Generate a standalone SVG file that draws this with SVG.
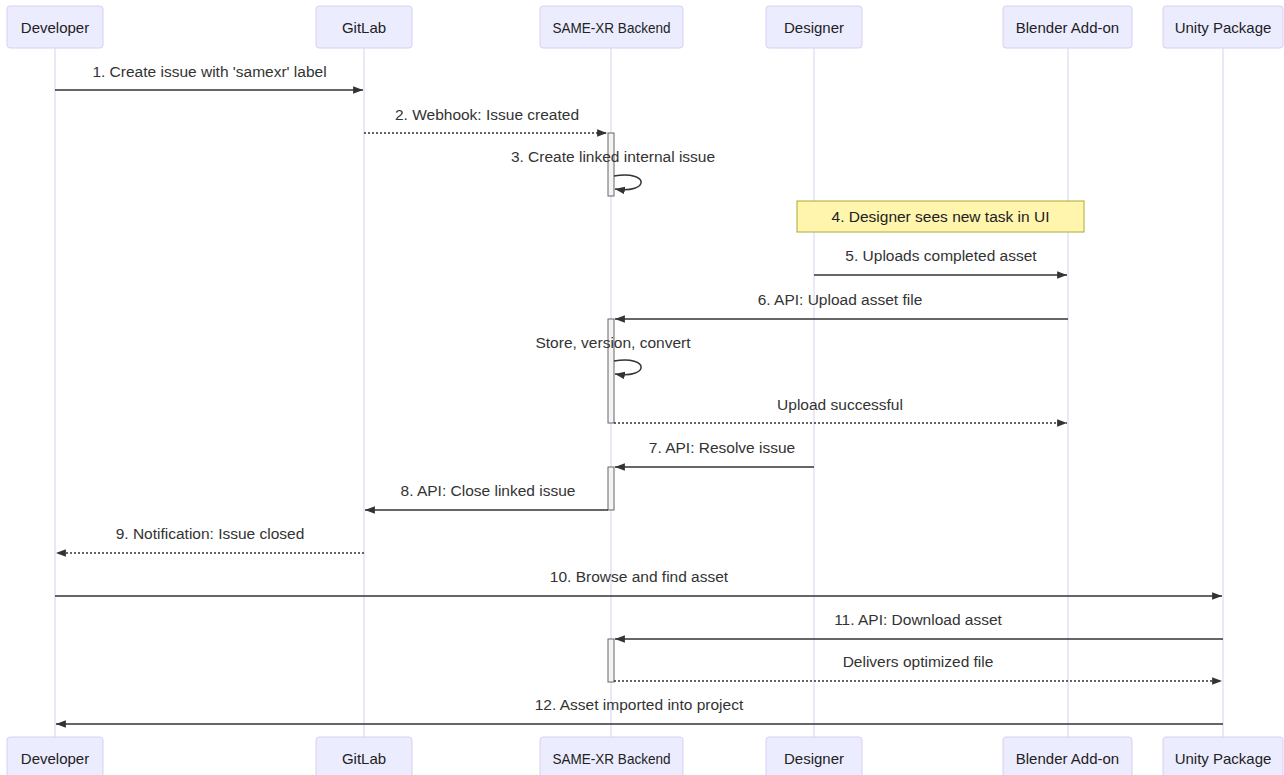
<svg xmlns="http://www.w3.org/2000/svg" width="1284" height="775" viewBox="0 0 1284 775">
<defs>
<style>
.actor{fill:#ECECFF;stroke:#D9D0F2;stroke-width:1}
.actor-text{font-family:"Liberation Sans",Arial,sans-serif;font-size:15px;fill:#222;text-anchor:middle}
.lifeline{stroke:#D9D0F2;stroke-width:1}
.msg{stroke:#333;stroke-width:1.5;fill:none}
.dotted{stroke:#333;stroke-width:1.5;fill:none;stroke-dasharray:2,2}
.label{font-family:"Liberation Sans",Arial,sans-serif;font-size:15.5px;fill:#333;text-anchor:middle}
.act{fill:#f4f4f4;stroke:#666;stroke-width:1}
.note{fill:#fff5ad;stroke:#aaaa33;stroke-width:1}
.note-text{font-family:"Liberation Sans",Arial,sans-serif;font-size:15.5px;fill:#222;text-anchor:middle}
</style>
<marker id="arrow" markerUnits="userSpaceOnUse" markerWidth="11" markerHeight="11" refX="9" refY="5" orient="auto" viewBox="0 0 10 10">
<path d="M 0 1.5 L 9 5 L 0 8.5 z" fill="#333"/>
</marker>
</defs>
<rect width="1284" height="775" fill="#ffffff"/>

<g id="lifelines">
<line class="lifeline" x1="55" y1="48" x2="55" y2="737"/>
<line class="lifeline" x1="364" y1="48" x2="364" y2="737"/>
<line class="lifeline" x1="611" y1="48" x2="611" y2="737"/>
<line class="lifeline" x1="814" y1="48" x2="814" y2="737"/>
<line class="lifeline" x1="1068" y1="48" x2="1068" y2="737"/>
<line class="lifeline" x1="1223" y1="48" x2="1223" y2="737"/>
</g>

<g id="developer">
<rect class="actor" x="7" y="6" width="96" height="42" rx="3"/>
<text class="actor-text" x="55" y="33">Developer</text>
<rect class="actor" x="7" y="737" width="96" height="42" rx="3"/>
<text class="actor-text" x="55" y="764">Developer</text>
</g>
<g id="gitlab">
<rect class="actor" x="316" y="6" width="96" height="42" rx="3"/>
<text class="actor-text" x="364" y="33">GitLab</text>
<rect class="actor" x="316" y="737" width="96" height="42" rx="3"/>
<text class="actor-text" x="364" y="764">GitLab</text>
</g>
<g id="backend">
<rect class="actor" x="540" y="6" width="143" height="42" rx="3"/>
<text class="actor-text" x="611.5" y="33" textLength="118" lengthAdjust="spacingAndGlyphs">SAME-XR Backend</text>
<rect class="actor" x="540" y="737" width="143" height="42" rx="3"/>
<text class="actor-text" x="611.5" y="764" textLength="118" lengthAdjust="spacingAndGlyphs">SAME-XR Backend</text>
</g>
<g id="designer">
<rect class="actor" x="766" y="6" width="96" height="42" rx="3"/>
<text class="actor-text" x="814" y="33">Designer</text>
<rect class="actor" x="766" y="737" width="96" height="42" rx="3"/>
<text class="actor-text" x="814" y="764">Designer</text>
</g>
<g id="blender">
<rect class="actor" x="1003" y="6" width="129" height="42" rx="3"/>
<text class="actor-text" x="1067.5" y="33">Blender Add-on</text>
<rect class="actor" x="1003" y="737" width="129" height="42" rx="3"/>
<text class="actor-text" x="1067.5" y="764">Blender Add-on</text>
</g>
<g id="unity">
<rect class="actor" x="1163" y="6" width="120" height="42" rx="3"/>
<text class="actor-text" x="1223" y="33">Unity Package</text>
<rect class="actor" x="1163" y="737" width="120" height="42" rx="3"/>
<text class="actor-text" x="1223" y="764">Unity Package</text>
</g>

<g id="activations">
<rect class="act" x="608" y="133" width="6" height="63"/>
<rect class="act" x="608" y="319" width="6" height="104"/>
<rect class="act" x="608" y="467" width="6" height="43"/>
<rect class="act" x="608" y="639" width="6" height="43"/>
</g>

<g id="note4">
<rect class="note" x="797" y="201" width="287" height="31"/>
<text class="note-text" x="940.5" y="222">4. Designer sees new task in UI</text>
</g>

<g id="connectors">
<line class="msg" x1="55" y1="90" x2="363" y2="90" marker-end="url(#arrow)"/>
<text class="label" x="209.5" y="77">1. Create issue with 'samexr' label</text>

<line class="dotted" x1="364" y1="133" x2="607" y2="133" marker-end="url(#arrow)"/>
<text class="label" x="487" y="120">2. Webhook: Issue created</text>

<path class="msg" d="M 614 176 C 650 170 650 194 615 189" marker-end="url(#arrow)"/>
<text class="label" x="613" y="162">3. Create linked internal issue</text>

<line class="msg" x1="814" y1="275" x2="1067" y2="275" marker-end="url(#arrow)"/>
<text class="label" x="941" y="261">5. Uploads completed asset</text>

<line class="msg" x1="1068" y1="319" x2="615" y2="319" marker-end="url(#arrow)"/>
<text class="label" x="840" y="305">6. API: Upload asset file</text>

<path class="msg" d="M 614 361 C 650 355 650 379 615 374" marker-end="url(#arrow)"/>
<text class="label" x="613" y="348">Store, version, convert</text>

<line class="dotted" x1="614" y1="423" x2="1067" y2="423" marker-end="url(#arrow)"/>
<text class="label" x="840" y="410">Upload successful</text>

<line class="msg" x1="814" y1="467" x2="615" y2="467" marker-end="url(#arrow)"/>
<text class="label" x="722" y="453">7. API: Resolve issue</text>

<line class="msg" x1="608" y1="510" x2="365" y2="510" marker-end="url(#arrow)"/>
<text class="label" x="488" y="496">8. API: Close linked issue</text>

<line class="dotted" x1="364" y1="553" x2="56" y2="553" marker-end="url(#arrow)"/>
<text class="label" x="210" y="539">9. Notification: Issue closed</text>

<line class="msg" x1="55" y1="596" x2="1222" y2="596" marker-end="url(#arrow)"/>
<text class="label" x="639" y="582">10. Browse and find asset</text>

<line class="msg" x1="1223" y1="639" x2="615" y2="639" marker-end="url(#arrow)"/>
<text class="label" x="918" y="625">11. API: Download asset</text>

<line class="dotted" x1="614" y1="681" x2="1222" y2="681" marker-end="url(#arrow)"/>
<text class="label" x="918" y="667">Delivers optimized file</text>

<line class="msg" x1="1223" y1="724" x2="56" y2="724" marker-end="url(#arrow)"/>
<text class="label" x="639" y="710">12. Asset imported into project</text>
</g>
</svg>
